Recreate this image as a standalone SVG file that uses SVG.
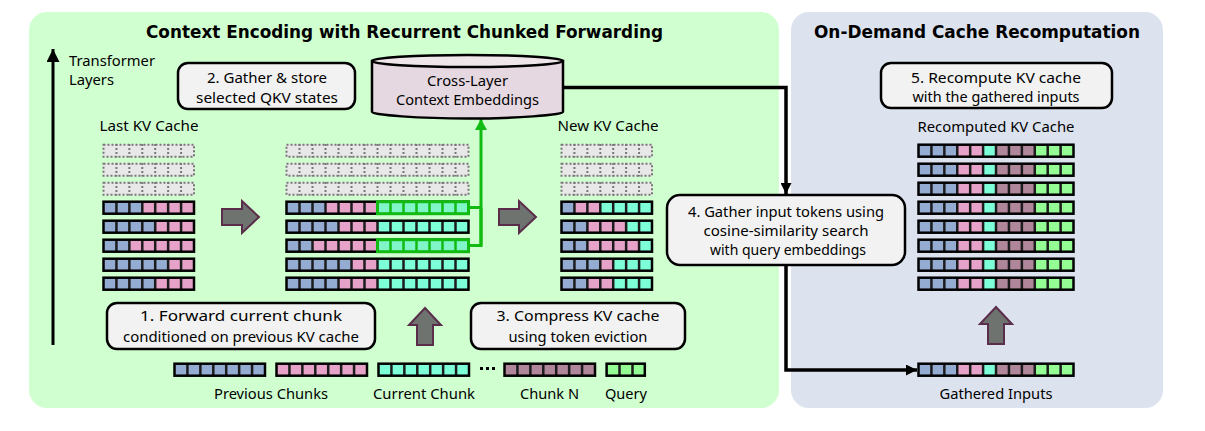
<svg xmlns="http://www.w3.org/2000/svg" width="1205" height="431" viewBox="0 0 1205 431">
<style>
text{font-family:"Noto Sans","Open Sans","DejaVu Sans",sans-serif;font-size:15px;fill:#000;text-anchor:middle}
.l{text-anchor:start}
.t{font-family:"DejaVu Sans",sans-serif;font-weight:700;font-size:17px}
.b{fill:#94abd2}.p{fill:#e6a2c8}.c{fill:#7dffd8}.m{fill:#b0869a}.g{fill:#94fd94}.e{fill:#e8e8e8}.h{fill:#80f5c8}
.sep{fill:none;stroke:#1c1c1c;stroke-width:2.5}
.out{fill:none;stroke:#000;stroke-width:2.5}
.ds{fill:none;stroke:#777;stroke-width:2;stroke-dasharray:2 2}
.gs{fill:none;stroke:#11bb11;stroke-width:2.5}
.go{fill:none;stroke:#11bb11;stroke-width:3}
.box{fill:#f2f2f2;stroke:#000;stroke-width:2.5}
.ba{fill:#6f736f;stroke:#5a2d4a;stroke-width:2;stroke-linejoin:miter}
.k{fill:none;stroke:#000;stroke-width:3.5}
.gr{fill:none;stroke:#11bb11;stroke-width:3}
</style>
<defs>
<marker id="ak" markerUnits="userSpaceOnUse" markerWidth="12" markerHeight="11" refX="11" refY="5.500" orient="auto"><path d="M0 0L11 5.500L0 11Z" fill="#000"/></marker>
<marker id="ak2" markerUnits="userSpaceOnUse" markerWidth="14" markerHeight="13" refX="13" refY="6.500" orient="auto"><path d="M0 0L13 6.500L0 13Z" fill="#000"/></marker>
<marker id="ag" markerUnits="userSpaceOnUse" markerWidth="12" markerHeight="12" refX="11" refY="6" orient="auto"><path d="M0 0L11 6L0 12Z" fill="#11bb11"/></marker>
<path id="s7" d="M13.43 0V13.500M26.360 0V13.500M39.290 0V13.500M52.210 0V13.500M65.140 0V13.500M78.070 0V13.500"/>
<path id="s14" d="M13.500 0V13.500M26.500 0V13.500M39.500 0V13.500M52.500 0V13.500M65.500 0V13.500M78.500 0V13.500M91.500 0V13.500M104.500 0V13.500M117.500 0V13.500M130.500 0V13.500M143.500 0V13.500M156.500 0V13.500M169.500 0V13.500"/>
<path id="s12" d="M13.420 0V13.500M26.340 0V13.500M39.260 0V13.500M52.180 0V13.500M65.100 0V13.500M78.020 0V13.500M90.940 0V13.500M103.860 0V13.500M116.780 0V13.500M129.700 0V13.500M142.620 0V13.500"/>
<path id="sh" d="M13 0V13.500M26 0V13.500M39 0V13.500M52 0V13.500M65 0V13.500M78 0V13.500"/>
<g id="g7"><use href="#s7" class="sep"/><rect class="out" x=".5" y=".7" width="90.500" height="12"/></g>
<g id="g14"><use href="#s14" class="sep"/><rect class="out" x=".5" y=".7" width="182" height="12"/></g>
<g id="e7"><rect class="e" width="91.500" height="13.500"/><use href="#s7" class="ds"/><rect class="ds" x=".5" y=".7" width="90.500" height="12"/></g>
<g id="e14"><rect class="e" width="183" height="13.500"/><use href="#s14" class="ds"/><rect class="ds" x=".5" y=".7" width="182" height="12"/></g>
<g id="hl"><rect class="h" width="91" height="13"/><use href="#sh" class="gs"/><rect class="go" x="0" y=".7" width="91" height="12"/></g>
<g id="rr"><rect class="b" width="39.300" height="13.500"/><rect class="p" x="39.300" width="25.800" height="13.500"/><rect class="c" x="65.100" width="12.900" height="13.500"/><rect class="m" x="78" width="38.800" height="13.500"/><rect class="g" x="116.800" width="39.200" height="13.500"/><use href="#s12" class="sep"/><rect class="out" x=".5" y=".7" width="155" height="12"/></g>
<path id="ar" class="ba" d="M0 8H20V0L37 16L20 32V24H0Z"/>
<path id="au" class="ba" d="M16 0L32 17H24V37H8V17H0Z"/>
</defs>

<rect id="panel-left" x="29" y="12" width="750" height="396" rx="18" fill="#d0ffd0"/>
<rect id="panel-right" x="791" y="12" width="372" height="396" rx="18" fill="#dce3ef"/>
<text class="t" x="404.500" y="38" textLength="517" lengthAdjust="spacingAndGlyphs">Context Encoding with Recurrent Chunked Forwarding</text>
<text class="t" x="977" y="38" textLength="326" lengthAdjust="spacingAndGlyphs">On-Demand Cache Recomputation</text>

<g id="connectors">
<path class="k" style="stroke-width:3" d="M53 345V49" marker-end="url(#ak2)"/>
<path class="k" d="M564 87.500H786V194" marker-end="url(#ak)"/>
<path class="k" d="M786 265V370H917" marker-end="url(#ak)"/>
<path class="gr" d="M469 207.500H481M469 245.500H481V119" marker-end="url(#ag)"/>
<path class="gr" d="M481 245.500V207.500"/>
</g>

<g id="layers-label"><text class="l" x="69" y="66" textLength="86" lengthAdjust="spacingAndGlyphs">Transformer</text><text class="l" x="69" y="85" textLength="45" lengthAdjust="spacingAndGlyphs">Layers</text></g>

<g id="step2"><rect class="box" x="178" y="63" width="177" height="46" rx="10"/><text x="267" y="83" textLength="120" lengthAdjust="spacingAndGlyphs">2. Gather &amp; store</text><text x="267" y="103" textLength="142" lengthAdjust="spacingAndGlyphs">selected QKV states</text></g>

<g id="context-store">
<path d="M372 61V112C372 115 420 118.500 467.500 118.500S563 115 563 112V61Z" fill="#e6d8e0" stroke="#000" stroke-width="2.500"/>
<ellipse cx="467.500" cy="61" rx="95.500" ry="6" fill="#efe6ea" stroke="#000" stroke-width="2.500"/>
<text x="467.500" y="86" textLength="81" lengthAdjust="spacingAndGlyphs">Cross-Layer</text>
<text x="467.500" y="105" textLength="143" lengthAdjust="spacingAndGlyphs">Context Embeddings</text>
</g>

<g id="last-kv-cache">
<text x="149" y="131" textLength="99" lengthAdjust="spacingAndGlyphs">Last KV Cache</text>
<use href="#e7" x="103" y="144"/><use href="#e7" x="103" y="163"/><use href="#e7" x="103" y="182"/>
<g transform="translate(103 201)"><rect class="b" width="39.200" height="13.500"/><rect class="p" x="39.200" width="52.300" height="13.500"/><use href="#g7"/></g>
<g transform="translate(103 220)"><rect class="b" width="52.300" height="13.500"/><rect class="p" x="52.300" width="39.200" height="13.500"/><use href="#g7"/></g>
<g transform="translate(103 239)"><rect class="b" width="26.140" height="13.500"/><rect class="p" x="26.140" width="65.360" height="13.500"/><use href="#g7"/></g>
<g transform="translate(103 258)"><rect class="b" width="65.360" height="13.500"/><rect class="p" x="65.360" width="26.140" height="13.500"/><use href="#g7"/></g>
<g transform="translate(103 277)"><rect class="b" width="52.300" height="13.500"/><rect class="p" x="52.300" width="39.200" height="13.500"/><use href="#g7"/></g>
</g>
<use id="arrow-a" href="#ar" x="222" y="201"/>

<g id="current-kv-cache">
<use href="#e14" x="286" y="144"/><use href="#e14" x="286" y="163"/><use href="#e14" x="286" y="182"/>
<g transform="translate(286 201)"><rect class="b" width="39.500" height="13.500"/><rect class="p" x="39.500" width="52" height="13.500"/><rect class="c" x="91.500" width="91.500" height="13.500"/><use href="#g14"/><use href="#hl" x="91.500"/></g>
<g transform="translate(286 220)"><rect class="b" width="52.500" height="13.500"/><rect class="p" x="52.500" width="39" height="13.500"/><rect class="c" x="91.500" width="91.500" height="13.500"/><use href="#g14"/></g>
<g transform="translate(286 239)"><rect class="b" width="26.500" height="13.500"/><rect class="p" x="26.500" width="65" height="13.500"/><rect class="c" x="91.500" width="91.500" height="13.500"/><use href="#g14"/><use href="#hl" x="91.500"/></g>
<g transform="translate(286 258)"><rect class="b" width="65.500" height="13.500"/><rect class="p" x="65.500" width="26" height="13.500"/><rect class="c" x="91.500" width="91.500" height="13.500"/><use href="#g14"/></g>
<g transform="translate(286 277)"><rect class="b" width="52.500" height="13.500"/><rect class="p" x="52.500" width="39" height="13.500"/><rect class="c" x="91.500" width="91.500" height="13.500"/><use href="#g14"/></g>
</g>
<use id="arrow-b" href="#ar" x="499" y="201"/>

<g id="new-kv-cache">
<text x="608" y="131" textLength="101" lengthAdjust="spacingAndGlyphs">New KV Cache</text>
<use href="#e7" x="561" y="144"/><use href="#e7" x="561" y="163"/><use href="#e7" x="561" y="182"/>
<g transform="translate(561 201)"><rect class="b" width="13.430" height="13.500"/><rect class="p" x="13.430" width="25.860" height="13.500"/><rect class="c" x="39.290" width="52.210" height="13.500"/><use href="#g7"/></g>
<g transform="translate(561 220)"><rect class="b" width="26.360" height="13.500"/><rect class="p" x="26.360" width="38.780" height="13.500"/><rect class="c" x="65.140" width="26.360" height="13.500"/><use href="#g7"/></g>
<g transform="translate(561 239)"><rect class="b" width="26.360" height="13.500"/><rect class="p" x="26.360" width="51.710" height="13.500"/><rect class="c" x="78.070" width="13.430" height="13.500"/><use href="#g7"/></g>
<g transform="translate(561 258)"><rect class="b" width="39.290" height="13.500"/><rect class="p" x="39.290" width="12.920" height="13.500"/><rect class="c" x="52.210" width="39.290" height="13.500"/><use href="#g7"/></g>
<g transform="translate(561 277)"><rect class="b" width="26.360" height="13.500"/><rect class="p" x="26.360" width="25.850" height="13.500"/><rect class="c" x="52.210" width="39.290" height="13.500"/><use href="#g7"/></g>
</g>

<g id="step1"><rect class="box" x="107" y="303" width="268" height="46" rx="10"/><text x="241" y="321" textLength="202" lengthAdjust="spacingAndGlyphs">1. Forward current chunk</text><text x="241" y="342" textLength="236" lengthAdjust="spacingAndGlyphs">conditioned on previous KV cache</text></g>
<use id="arrow-c" href="#au" x="409" y="308"/>
<g id="step3"><rect class="box" x="471" y="303" width="214" height="46" rx="10"/><text x="578" y="321" textLength="163" lengthAdjust="spacingAndGlyphs">3. Compress KV cache</text><text x="578" y="342" textLength="139" lengthAdjust="spacingAndGlyphs">using token eviction</text></g>

<g id="previous-chunks"><rect class="b" x="174" y="363" width="91.500" height="13.500"/><use href="#g7" x="174" y="363"/><text x="271" y="399" textLength="114" lengthAdjust="spacingAndGlyphs">Previous Chunks</text></g>
<g id="middle-chunk"><rect class="p" x="276" y="363" width="91.500" height="13.500"/><use href="#g7" x="276" y="363"/></g>
<g id="current-chunk"><rect class="c" x="378" y="363" width="91.500" height="13.500"/><use href="#g7" x="378" y="363"/><text x="424" y="399" textLength="102" lengthAdjust="spacingAndGlyphs">Current Chunk</text></g>
<g id="ellipsis"><rect x="480" y="367" width="3" height="3"/><rect x="486" y="367" width="3" height="3"/><rect x="492" y="367" width="3" height="3"/></g>
<g id="chunk-n"><rect class="m" x="504" y="363" width="91.500" height="13.500"/><use href="#g7" x="504" y="363"/><text x="549.500" y="399" textLength="59" lengthAdjust="spacingAndGlyphs">Chunk N</text></g>
<g id="query"><rect class="g" x="606.500" y="363" width="39" height="13.500"/><path class="sep" d="M619.500 363V376.500M632.500 363V376.500"/><rect class="out" x="606.600" y="363.700" width="38.200" height="12"/><text x="626" y="399" textLength="42" lengthAdjust="spacingAndGlyphs">Query</text></g>

<g id="step5"><rect class="box" x="881" y="63" width="231" height="45" rx="10"/><text x="996" y="83" textLength="170" lengthAdjust="spacingAndGlyphs">5. Recompute KV cache</text><text x="996" y="102" textLength="167" lengthAdjust="spacingAndGlyphs">with the gathered inputs</text></g>
<g id="recomputed-kv-cache">
<text x="996" y="132" textLength="157" lengthAdjust="spacingAndGlyphs">Recomputed KV Cache</text>
<use href="#rr" x="918" y="144"/><use href="#rr" x="918" y="163"/><use href="#rr" x="918" y="182"/><use href="#rr" x="918" y="201"/><use href="#rr" x="918" y="220"/><use href="#rr" x="918" y="239"/><use href="#rr" x="918" y="258"/><use href="#rr" x="918" y="277"/>
</g>
<g id="step4"><rect class="box" x="667" y="195" width="238" height="70" rx="13"/><text x="786" y="217" textLength="196" lengthAdjust="spacingAndGlyphs">4. Gather input tokens using</text><text x="786" y="236" textLength="165" lengthAdjust="spacingAndGlyphs">cosine-similarity search</text><text x="788" y="255" textLength="156" lengthAdjust="spacingAndGlyphs">with query embeddings</text></g>
<use id="arrow-d" href="#au" x="980" y="307"/>
<g id="gathered-inputs"><use href="#rr" x="918" y="363"/><text x="996" y="399" textLength="113" lengthAdjust="spacingAndGlyphs">Gathered Inputs</text></g>
</svg>
